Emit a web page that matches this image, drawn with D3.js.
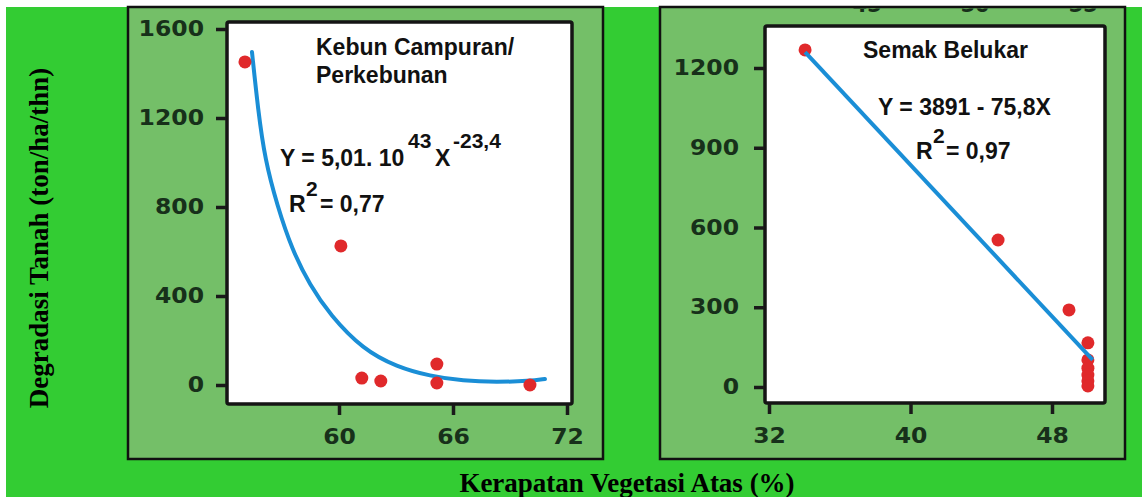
<!DOCTYPE html>
<html>
<head>
<meta charset="utf-8">
<script src="https://cdn.jsdelivr.net/npm/d3@7"></script>
<style>
  body { margin: 0; background: #fff; }
  svg { display: block; }
</style>
</head>
<body>
<svg id="chart"></svg>
<script>
// left panel: Kebun Campuran / Perkebunan
const leftX = [55.05, 60.1, 61.2, 62.2, 65.15, 65.15, 70.05];
const leftY = [1452, 625, 31, 18, 94, 9, 0];
const leftCurveX = [55.42, 55.74, 56.11, 56.74, 57.53, 58.47, 59.53, 61.26, 63.05, 64.79, 66.53, 68.32, 70.05, 70.84];
const leftCurveY = [1497, 1236, 1011, 809, 607, 449, 315, 160, 81, 40, 18, 13, 18, 27];
const leftXTicks = [60, 66, 72];
const leftYTicks = [0, 400, 800, 1200, 1600];

// right panel: Semak Belukar
const rightX = [34.04, 44.95, 48.96, 50.03, 50.03, 50.03, 50.03, 50.03, 50.03];
const rightY = [1268, 553, 290, 166, 102, 71, 45, 23, 4];
const rightLineX = [34.04, 50.3];
const rightLineY = [1260, 102];
const rightXTicks = [32, 40, 48];
const rightYTicks = [0, 300, 600, 900, 1200];
const cutTopLabels = ["45", "50", "55"]; // bits of a cropped axis at the top

const W = 1142, H = 497;
const svg = d3.select('#chart').attr('width', W).attr('height', H);

svg.append('rect').attr('width', W).attr('height', H).attr('fill', '#fff');
svg.append('rect').attr('x', 6).attr('y', 7).attr('width', W - 6).attr('height', H - 7).attr('fill', '#33cc33');

const sx = 1.12;
const tickFont = "'DejaVu Sans', Verdana, sans-serif";
const labelFont = "'Liberation Sans', Arial, sans-serif";

function panel(cfg) {
  const g = svg.append('g');
  g.append('rect')
    .attr('x', cfg.box[0]).attr('y', cfg.box[1])
    .attr('width', cfg.box[2]).attr('height', cfg.box[3])
    .attr('fill', '#74bf68').attr('stroke', '#111').attr('stroke-width', 2.5);

  const x = d3.scaleLinear().domain(cfg.xDom).range(cfg.xRange);
  const y = d3.scaleLinear().domain(cfg.yDom).range(cfg.yRange);

  // white plot area
  g.append('rect')
    .attr('x', cfg.plot[0]).attr('y', cfg.plot[1])
    .attr('width', cfg.plot[2] - cfg.plot[0]).attr('height', cfg.plot[3] - cfg.plot[1])
    .attr('fill', '#fff').attr('stroke', '#151515').attr('stroke-width', 3.5)
    .attr('rx', 2);

  const yAxis = d3.axisLeft(y).tickValues(cfg.yTicks).tickSize(10).tickFormat(d3.format('d'));
  const ya = g.append('g').attr('transform', `translate(${cfg.plot[0] - 1},0)`).call(yAxis);
  const xAxis = d3.axisBottom(x).tickValues(cfg.xTicks).tickSize(10).tickFormat(d3.format('d'));
  const xa = g.append('g').attr('transform', `translate(0,${cfg.plot[3] + 1})`).call(xAxis);

  [ya, xa].forEach(a => {
    a.select('.domain').remove();
    a.selectAll('.tick line').attr('stroke', '#1a1a1a').attr('stroke-width', 3.5);
    a.selectAll('.tick text')
      .attr('fill', '#17301a')
      .style('font-family', tickFont)
      .style('font-weight', 'bold')
      .style('font-size', '21px')
      .attr('transform', `scale(${sx},1)`);
  });
  ya.selectAll('.tick text').attr('x', -cfg.yPad / sx);
  xa.selectAll('.tick text').attr('dy', null).attr('y', cfg.xBase);

  return { g, x, y };
}

const L = panel({
  box: [128, 7, 475, 452], plot: [227, 22, 572, 404],
  xDom: [60, 72], xRange: [339, 567], yDom: [0, 1600], yRange: [385, 29],
  xTicks: leftXTicks, yTicks: leftYTicks, yPad: 22, xBase: 39
});
const R = panel({
  box: [660, 7, 465, 452], plot: [765, 26, 1105, 403],
  xDom: [32, 48], xRange: [769, 1052], yDom: [0, 1200], yRange: [387, 68],
  xTicks: rightXTicks, yTicks: rightYTicks, yPad: 25, xBase: 39
});

// cropped tick labels peeking in at the top of the right panel
svg.append('clipPath').attr('id', 'topclip')
  .append('rect').attr('x', 661).attr('y', 8.5).attr('width', 463).attr('height', 10);
svg.append('g').attr('clip-path', 'url(#topclip)')
  .selectAll('text').data(cutTopLabels).join('text')
  .attr('x', (d, i) => [867, 975, 1083][i]).attr('y', 11.5)
  .attr('text-anchor', 'middle')
  .style('font-family', tickFont).style('font-weight', 'bold').style('font-size', '21px')
  .attr('fill', '#17301a').text(d => d);

// fitted curves
const blue = '#1a8ed6', red = '#e0292b';
L.g.append('path')
  .datum(d3.zip(leftCurveX, leftCurveY))
  .attr('d', d3.line().x(d => L.x(d[0])).y(d => L.y(d[1])).curve(d3.curveBasis))
  .attr('fill', 'none').attr('stroke', blue).attr('stroke-width', 4).attr('stroke-linecap', 'round');

// points
L.g.selectAll('circle').data(d3.zip(leftX, leftY)).join('circle')
  .attr('cx', d => L.x(d[0])).attr('cy', d => L.y(d[1])).attr('r', 6.5).attr('fill', red);
R.g.selectAll('circle').data(d3.zip(rightX, rightY)).join('circle')
  .attr('cx', d => R.x(d[0])).attr('cy', d => R.y(d[1])).attr('r', 6.5).attr('fill', red);

// regression line drawn over the dots
R.g.append('path')
  .datum(d3.zip(rightLineX, rightLineY))
  .attr('d', d3.line().x(d => R.x(d[0])).y(d => R.y(d[1])))
  .attr('fill', 'none').attr('stroke', blue).attr('stroke-width', 4);

// annotations
function label(txt, x, y, size) {
  svg.append('text').attr('x', x).attr('y', y)
    .style('font-family', labelFont).style('font-weight', 'bold')
    .style('font-size', (size || 23) + 'px').attr('fill', '#111').text(txt);
}
label('Kebun Campuran/', 316, 55);
label('Perkebunan', 316, 83);
label('Y = 5,01. 10', 280, 166);
label('43', 408, 148, 21);
label('X', 435, 166);
label('-23,4', 453, 148, 21);
label('R', 289, 212);
label('2', 306, 196, 21);
label('= 0,77', 320, 212);

label('Semak Belukar', 863, 58);
label('Y = 3891 - 75,8X', 878, 115);
label('R', 916, 159);
label('2', 933, 143, 21);
label('= 0,97', 946, 159);

// axis titles
svg.append('text')
  .attr('transform', 'translate(48,238) rotate(-90)')
  .attr('text-anchor', 'middle')
  .style('font-family', "'Liberation Serif', 'Times New Roman', serif")
  .style('font-weight', 'bold').style('font-size', '27px')
  .attr('fill', '#000').text('Degradasi Tanah (ton/ha/thn)');
svg.append('text')
  .attr('x', 627).attr('y', 492)
  .attr('text-anchor', 'middle')
  .style('font-family', "'Liberation Serif', 'Times New Roman', serif")
  .style('font-weight', 'bold').style('font-size', '27px')
  .attr('fill', '#000').text('Kerapatan Vegetasi Atas (%)');
</script>
</body>
</html>
